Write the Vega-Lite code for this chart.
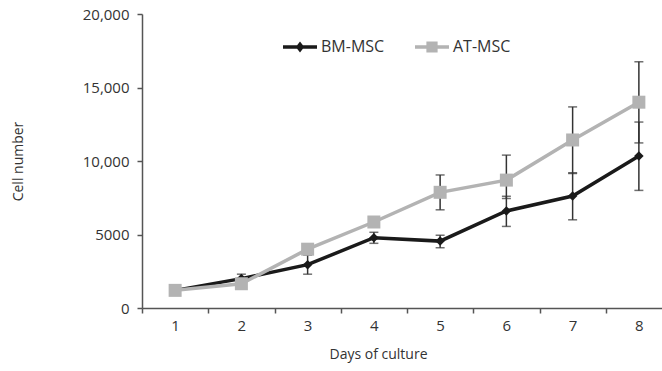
{
  "$schema": "https://vega.github.io/schema/vega-lite/v6.json",
  "width": 520,
  "height": 294,
  "autosize": {"type": "none"},
  "padding": {"left": 142, "top": 14, "right": 0, "bottom": 63},
  "background": "white",
  "config": {
    "font": "Open Sans",
    "view": {"stroke": null},
    "axis": {"grid": false, "domainColor": "#555555", "domainWidth": 1.5, "tickColor": "#555555", "tickWidth": 1.5, "tickSize": 5, "labelColor": "#333333", "titleColor": "#333333", "labelFontSize": 15, "titleFontSize": 14, "titleFontWeight": "normal", "labelFont": "Open Sans", "titleFont": "Open Sans"},
    "axisX": {"tickBand": "extent", "labelAngle": 0, "labelPadding": 5, "titleY": 46, "titleX": 236, "titleBaseline": "middle"},
    "axisY": {"labelPadding": 8, "titleX": -124, "titleBaseline": "middle", "titleAngle": -90},
    "legend": {"columnPadding": 30, "labelOffset": 4, "labelFontSize": 16, "labelColor": "#333333", "symbolSize": 1156, "symbolStrokeWidth": 0, "symbolOpacity": 1, "labelFont": "Open Sans"}
  },
  "data": {"values": [
    {"day": 1, "series": "BM-MSC", "mean": 1200, "lo": 1100, "hi": 1300},
    {"day": 2, "series": "BM-MSC", "mean": 2000, "lo": 1700, "hi": 2300},
    {"day": 3, "series": "BM-MSC", "mean": 2950, "lo": 2300, "hi": 3600},
    {"day": 4, "series": "BM-MSC", "mean": 4780, "lo": 4400, "hi": 5150},
    {"day": 5, "series": "BM-MSC", "mean": 4550, "lo": 4100, "hi": 4950},
    {"day": 6, "series": "BM-MSC", "mean": 6600, "lo": 5550, "hi": 7600},
    {"day": 7, "series": "BM-MSC", "mean": 7620, "lo": 6000, "hi": 9200},
    {"day": 8, "series": "BM-MSC", "mean": 10340, "lo": 8000, "hi": 12650},
    {"day": 1, "series": "AT-MSC", "mean": 1200, "lo": 1100, "hi": 1300},
    {"day": 2, "series": "AT-MSC", "mean": 1650, "lo": 1300, "hi": 2000},
    {"day": 3, "series": "AT-MSC", "mean": 4000, "lo": 3750, "hi": 4250},
    {"day": 4, "series": "AT-MSC", "mean": 5850, "lo": 5650, "hi": 6050},
    {"day": 5, "series": "AT-MSC", "mean": 7870, "lo": 6680, "hi": 9050},
    {"day": 6, "series": "AT-MSC", "mean": 8700, "lo": 7450, "hi": 10400},
    {"day": 7, "series": "AT-MSC", "mean": 11430, "lo": 9150, "hi": 13680},
    {"day": 8, "series": "AT-MSC", "mean": 14000, "lo": 11230, "hi": 16750}
  ]},
  "encoding": {
    "x": {"field": "day", "type": "ordinal", "title": "Days of culture", "scale": {"range": [0, 530], "paddingInner": 0, "paddingOuter": 0}}
  },
  "layer": [
    {
      "mark": {"type": "errorbar", "ticks": {"size": 9, "thickness": 1.5, "color": "#333333"}, "rule": {"strokeWidth": 1.5, "color": "#333333"}},
      "encoding": {
        "y": {"field": "lo", "type": "quantitative", "title": "Cell number", "scale": {"domain": [0, 20000]}, "axis": {"values": [0, 5000, 10000, 15000, 20000], "labelExpr": "datum.value >= 10000 ? format(datum.value, ',') : datum.value + ''"}},
        "y2": {"field": "hi"}
      }
    },
    {
      "transform": [{"filter": "datum.series === 'BM-MSC'"}],
      "mark": {"type": "line", "strokeWidth": 3.5, "color": "#1a1a1a"},
      "encoding": {
        "y": {"field": "mean", "type": "quantitative", "title": "Cell number"}
      }
    },
    {
      "transform": [{"filter": "datum.series === 'AT-MSC'"}],
      "mark": {"type": "line", "strokeWidth": 3.5, "color": "#b3b3b3"},
      "encoding": {
        "y": {"field": "mean", "type": "quantitative", "title": "Cell number"}
      }
    },
    {
      "transform": [{"filter": "datum.series === 'BM-MSC'"}],
      "mark": {"type": "point", "filled": true, "opacity": 1, "shape": "diamond", "size": 90, "color": "#1a1a1a"},
      "encoding": {
        "y": {"field": "mean", "type": "quantitative", "title": "Cell number"}
      }
    },
    {
      "transform": [{"filter": "datum.series === 'AT-MSC'"}],
      "mark": {"type": "point", "filled": true, "opacity": 1, "shape": "square", "size": 169, "color": "#b3b3b3"},
      "encoding": {
        "y": {"field": "mean", "type": "quantitative", "title": "Cell number"}
      }
    },
    {
      "transform": [{"filter": "false"}],
      "mark": {"type": "point", "filled": true, "size": 1156},
      "encoding": {
        "color": {"field": "series", "type": "nominal", "title": null, "scale": {"domain": ["BM-MSC", "AT-MSC"], "range": ["#1a1a1a", "#b3b3b3"]},
          "legend": {"orient": "none", "legendX": 141, "legendY": 16, "direction": "horizontal", "symbolOpacity": 1}},
        "shape": {"field": "series", "type": "nominal", "title": null, "scale": {"domain": ["BM-MSC", "AT-MSC"], "range": ["M-1,-0.1L1,-0.1L1,0.1L-1,0.1ZM0,-0.32L0.25,0L0,0.32L-0.25,0Z", "M-1,-0.1L1,-0.1L1,0.1L-1,0.1ZM-0.33,-0.33L0.33,-0.33L0.33,0.33L-0.33,0.33Z"]},
          "legend": {"orient": "none", "legendX": 141, "legendY": 16, "direction": "horizontal", "symbolOpacity": 1}}
      }
    }
  ]
}
